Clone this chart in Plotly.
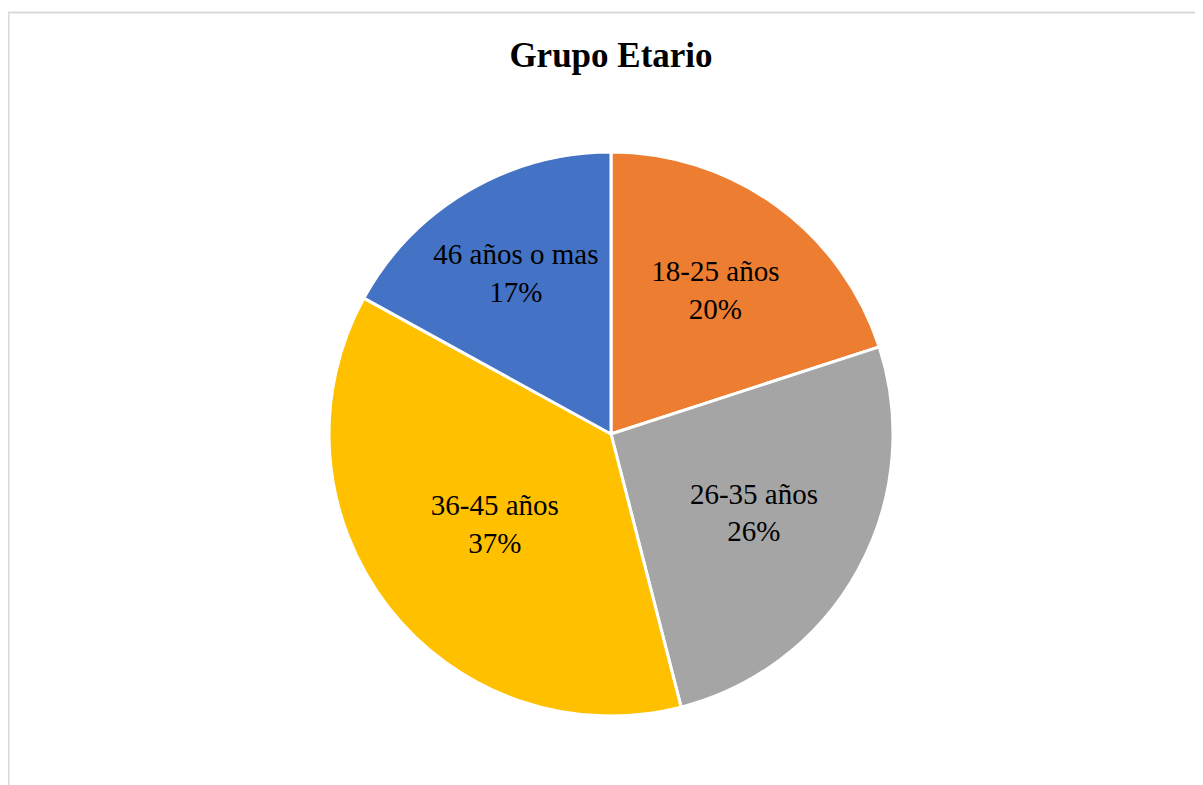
import plotly.graph_objects as go

categories = ["18-25 años", "26-35 años", "36-45 años", "46 años o mas"]
values = [20, 26, 37, 17]
colors = ["#ED7D31", "#A5A5A5", "#FFC000", "#4472C4"]
title_text = "Grupo Etario"

W, H = 1203, 785
# page body adds an 8px offset; positions below are in figure coordinates
cx, cy, R = 603, 426, 282

fig = go.Figure(go.Pie(
    labels=categories,
    values=values,
    sort=False,
    direction="clockwise",
    rotation=0,
    marker=dict(colors=colors, line=dict(color="white", width=3)),
    texttemplate="%{label}<br>%{percent:.0%}",
    textposition="inside",
    insidetextorientation="horizontal",
    textfont=dict(family="Liberation Serif", size=29, color="#000000"),
    domain=dict(x=[(cx - R) / W, (cx + R) / W], y=[1 - (cy + R) / H, 1 - (cy - R) / H]),
    showlegend=False,
    hoverinfo="skip",
))

fig.update_layout(
    width=W, height=H,
    margin=dict(l=0, r=0, t=0, b=0),
    paper_bgcolor="white",
    title=dict(text="<b>" + title_text + "</b>", x=603 / W, xanchor="center",
               y=1 - 47 / H, yanchor="middle",
               font=dict(family="Liberation Serif", size=35, color="#000000")),
    shapes=[dict(type="rect", xref="paper", yref="paper",
                 x0=0.5 / W, x1=1.1, y0=-0.1, y1=1 - 4.5 / H,
                 line=dict(color="#D9D9D9", width=2), fillcolor="rgba(0,0,0,0)")],
)

fig.write_html("out.html")
